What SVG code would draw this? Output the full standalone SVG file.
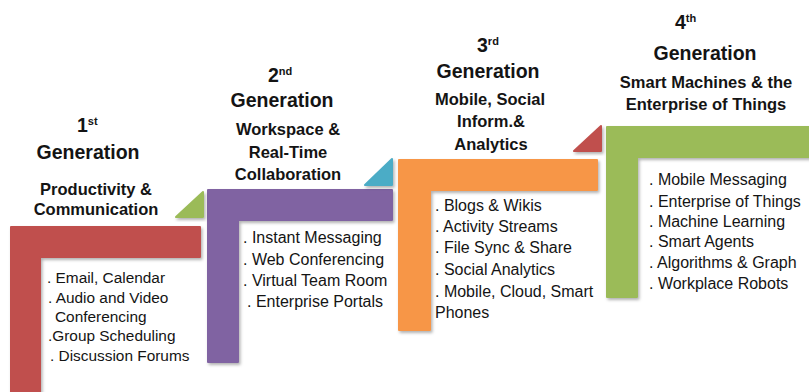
<svg xmlns="http://www.w3.org/2000/svg" width="809" height="392" viewBox="0 0 809 392">
<defs>
<filter id="sh" x="-10%" y="-10%" width="130%" height="130%">
<feDropShadow dx="1.5" dy="2" stdDeviation="1.5" flood-color="#000" flood-opacity="0.3"/>
</filter>
</defs>
<style>
text{font-family:"Liberation Sans",Arial,sans-serif;fill:#141414}
.gen{font-size:19.5px;font-weight:bold;text-anchor:middle}
.num{font-size:19.5px;font-weight:bold}
.sup{font-size:11px;font-weight:bold}
.sub{font-size:16.5px;font-weight:bold;text-anchor:middle}
.item{font-size:16px}
.small{font-size:15.4px}
.shape{filter:url(#sh);stroke-linejoin:round;stroke-width:2}
</style>
<rect width="809" height="392" fill="#fff"/>

<g id="gen1">
<path class="shape" d="M11,227 H200 V257 H40 V400 H11 Z" fill="#C0504D" stroke="#C0504D"/>
<text class="num" x="77" y="132">1<tspan class="sup" dy="-7">st</tspan></text>
<text class="gen" x="88" y="159">Generation</text>
<text class="sub" x="96" y="195">Productivity &amp;</text>
<text class="sub" x="96" y="215">Communication</text>
<text class="item small" x="47" y="283">. Email, Calendar</text>
<text class="item small" x="48" y="303">. Audio and Video</text>
<text class="item small" x="55" y="322">Conferencing</text>
<text class="item small" x="48" y="341">.Group Scheduling</text>
<text class="item small" x="50" y="361">. Discussion Forums</text>
</g>

<g id="gen2">
<path class="shape" d="M208,190 H392 V220 H238 V362 H208 Z" fill="#8064A2" stroke="#8064A2"/>
<text class="num" x="268" y="82">2<tspan class="sup" dy="-7">nd</tspan></text>
<text class="gen" x="282" y="107">Generation</text>
<text class="sub" x="288" y="135">Workspace &amp;</text>
<text class="sub" x="288" y="158">Real-Time</text>
<text class="sub" x="288" y="180">Collaboration</text>
<text class="item" x="243" y="243">. Instant Messaging</text>
<text class="item" x="243" y="265">. Web Conferencing</text>
<text class="item" x="243" y="286">. Virtual Team Room</text>
<text class="item" x="247" y="307">. Enterprise Portals</text>
</g>

<g id="gen3">
<path class="shape" d="M399,160 H597 V190 H430 V330 H399 Z" fill="#F79646" stroke="#F79646"/>
<text class="num" x="477" y="52">3<tspan class="sup" dy="-7">rd</tspan></text>
<text class="gen" x="488" y="78">Generation</text>
<text class="sub" x="490" y="105">Mobile, Social</text>
<text class="sub" x="491" y="127">Inform.&amp;</text>
<text class="sub" x="491" y="150">Analytics</text>
<text class="item" x="435" y="211">. Blogs &amp; Wikis</text>
<text class="item" x="435" y="232">. Activity Streams</text>
<text class="item" x="435" y="253">. File Sync &amp; Share</text>
<text class="item" x="435" y="275">. Social Analytics</text>
<text class="item" x="435" y="297">. Mobile, Cloud, Smart</text>
<text class="item" x="435" y="318">Phones</text>
</g>

<g id="gen4">
<path class="shape" d="M607,127 H815 V157 H637 V297 H607 Z" fill="#9BBB59" stroke="#9BBB59"/>
<text class="num" x="675" y="29">4<tspan class="sup" dy="-7">th</tspan></text>
<text class="gen" x="705" y="60">Generation</text>
<text class="sub" x="706" y="88">Smart Machines &amp; the</text>
<text class="sub" x="706" y="110">Enterprise of Things</text>
<text class="item" x="649" y="185">. Mobile Messaging</text>
<text class="item" x="649" y="207">. Enterprise of Things</text>
<text class="item" x="649" y="227">. Machine Learning</text>
<text class="item" x="649" y="247">. Smart Agents</text>
<text class="item" x="649" y="268">. Algorithms &amp; Graph</text>
<text class="item" x="649" y="289">. Workplace Robots</text>
</g>

<g id="connectors">
<path class="shape" d="M176,217 H203 V192 Z" fill="#9BBB59" stroke="#9BBB59"/>
<path class="shape" d="M365,185 H392 V159 Z" fill="#4BACC6" stroke="#4BACC6"/>
<path class="shape" d="M574,151 H601 V126 Z" fill="#C0504D" stroke="#C0504D"/>
</g>
</svg>
